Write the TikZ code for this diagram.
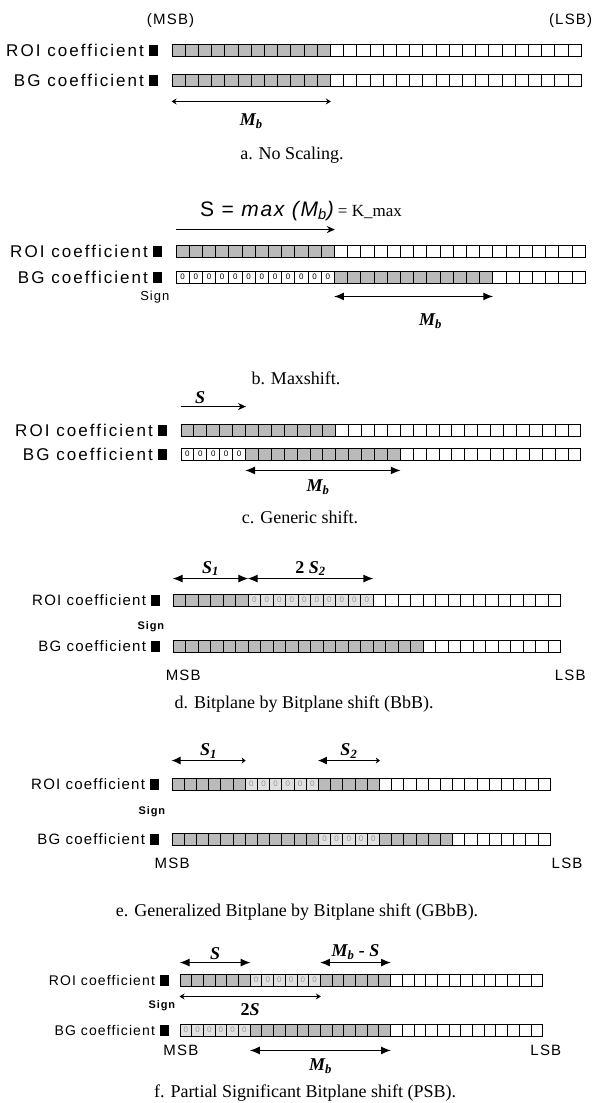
\documentclass[tikz,border=0pt]{standalone}
\usepackage{fontspec}
\setmainfont{Liberation Serif}
\newfontfamily\arialfont[LetterSpace=12]{Liberation Sans}
\newfontfamily\arialtight[LetterSpace=8]{Liberation Sans}
\usetikzlibrary{positioning, arrows.meta}
\tikzstyle{cell} = [rectangle, draw=black, line width=0.9pt, minimum height=12pt, inner sep=0pt]
\tikzstyle{wcell} = [cell, fill=white]
\tikzstyle{gcell} = [cell, fill=black!27]
\tikzstyle{digit} = [inner sep=0pt, font=\arialtight\fontsize{8}{8}\selectfont]
\tikzstyle{zcell} = [cell, fill=white, label={[digit]center:0}]
\tikzstyle{lcell} = [cell, fill=black!12, label={[digit, text=black!40]center:0}]
\tikzstyle{sq} = [rectangle, fill=black, minimum width=9pt, minimum height=11pt, inner sep=0pt]
\tikzstyle{labbig} = [font=\arialfont\fontsize{17}{17}\selectfont, inner sep=0pt]
\tikzstyle{labsmall} = [font=\arialtight\fontsize{15}{15}\selectfont, inner sep=0pt]
\tikzstyle{signtext} = [font=\arialtight\bfseries\fontsize{11}{11}\selectfont, inner sep=0pt]
\tikzstyle{captext} = [font=\fontsize{18}{21}\selectfont]
\tikzstyle{mlab} = [font=\fontsize{18}{20}\selectfont\itshape\bfseries, inner sep=0pt]
\tikzstyle{thinarrow} = [line width=0.9pt, {Stealth[length=5pt,width=6pt]}-{Stealth[length=5pt,width=6pt]}]
\tikzstyle{boldarrow} = [line width=1.3pt, {Latex[length=10pt,width=8pt]}-{Latex[length=10pt,width=8pt]}]
\tikzstyle{shiftarrow} = [line width=0.9pt, -{Stealth[length=8pt,width=7pt]}]
\tikzstyle{halfarrow} = [line width=1pt, {Latex[length=9pt,width=8pt]}-{Stealth[length=4pt,width=6pt]}]

% row of bit cells: name, x of left edge, y, cell width, runs kind/count
\newcount\bitno
\newcommand{\bitrow}[5]{%
  \global\bitno=0
  \foreach \kind/\num in {#5}{
    \foreach \k in {1,...,\num}{
      \pgfmathsetmacro{\cx}{#2+(\the\bitno+0.5)*#4}
      \node[\kind, minimum width=#4pt] (#1-\the\bitno) at (\cx, #3) {};
      \global\advance\bitno by 1
    }
  }
}

\begin{document}
\begin{tikzpicture}[x=1pt, y=-1pt]
  \useasboundingbox (0,0) rectangle (596,1103);

  % a. no scaling
  \bitrow{aR}{172}{50}{13.2}{gcell/12, wcell/19}
  \bitrow{aB}{172}{80}{13.2}{gcell/12, wcell/19}
  \node[sq, left=13pt of aR-0] (aRs) {};
  \node[sq, left=13pt of aB-0] (aBs) {};
  \node[labbig, left=5pt of aRs] (aRt) {ROI coefficient};
  \node[labbig, left=5pt of aBs] (aBt) {BG coefficient};
  \node[labsmall, above=16pt of aR-0, xshift=-8pt] (aMsb) {(MSB)};
  \node[labsmall, above=16pt of aR-30, xshift=-4pt] (aLsb) {(LSB)};
  \draw[thinarrow] ([yshift=-15pt]aB-0.south west) -- node[mlab, below=12pt] (aMb) {M\textsubscript{b}} ([yshift=-15pt]aB-11.south east);
  \node[captext] (aCap) at (292,155) {a. No Scaling.};

  % b. maxshift
  \bitrow{bR}{176}{251}{13.2}{gcell/12, wcell/19}
  \bitrow{bB}{176}{277}{13.2}{zcell/12, gcell/12, wcell/7}
  \node[sq, left=13pt of bR-0] (bRs) {};
  \node[sq, left=13pt of bB-0] (bBs) {};
  \node[labbig, left=5pt of bRs] (bRt) {ROI coefficient};
  \node[labbig, left=5pt of bBs] (bBt) {BG coefficient};
  \node[labsmall, font=\arialtight\fontsize{13}{13}\selectfont, below=8pt of bBs, xshift=-3pt] (bSign) {Sign};
  \draw[shiftarrow] ([yshift=15pt]bR-0.north west) -- ([yshift=15pt]bR-11.north east);
  \node (bF) at (301,211) {{\arialtight\fontsize{21}{22}\selectfont S = \textit{max (M\textsubscript{b})}} \fontsize{17}{20}\selectfont = K\_max};
  \draw[boldarrow] ([yshift=-13pt]bB-12.south west) -- node[mlab, below=17pt, xshift=17pt] (bMb) {M\textsubscript{b}} ([yshift=-13pt]bB-23.south east);
  \node[captext] (bCap) at (296,378) {b. Maxshift.};

  % c. generic shift
  \bitrow{cR}{181}{430}{12.9}{gcell/12, wcell/19}
  \bitrow{cB}{181}{454}{12.9}{zcell/5, gcell/12, wcell/14}
  \node[sq, left=13pt of cR-0] (cRs) {};
  \node[sq, left=13pt of cB-0] (cBs) {};
  \node[labbig, left=5pt of cRs] (cRt) {ROI coefficient};
  \node[labbig, left=5pt of cBs] (cBt) {BG coefficient};
  \draw[shiftarrow] ([yshift=17pt]cR-0.north west) -- node[mlab, above=2pt, pos=0.3] (cS) {S} ([yshift=17pt]cR-4.north east);
  \draw[boldarrow] ([yshift=-10pt]cB-5.south west) -- node[mlab, below=9pt, xshift=-5pt] (cMb) {M\textsubscript{b}} ([yshift=-10pt]cB-16.south east);
  \node[captext] (cCap) at (300,517) {c. Generic shift.};

  % d. bitplane by bitplane shift
  \bitrow{dR}{173}{600}{12.5}{gcell/6, lcell/10, wcell/15}
  \bitrow{dB}{173}{646}{12.5}{gcell/20, wcell/11}
  \node[sq, left=12pt of dR-0] (dRs) {};
  \node[sq, left=12pt of dB-0] (dBs) {};
  \node[labsmall, left=5pt of dRs] (dRt) {ROI coefficient};
  \node[labsmall, left=5pt of dBs] (dBt) {BG coefficient};
  \node[signtext, below=16pt of dRs, xshift=-5pt] (dSign) {Sign};
  \draw[boldarrow] ([yshift=15pt]dR-0.north west) -- node[mlab, above=2pt] (dS1) {S\textsubscript{1}} ([yshift=15pt]dR-5.north east);
  \draw[boldarrow] ([yshift=15pt]dR-6.north west) -- node[mlab, above=2pt] (dS2) {\upshape 2 \itshape S\textsubscript{2}} ([yshift=15pt]dR-15.north east);
  \node[labsmall, below=17pt of dB-0, xshift=4pt] (dMsb) {MSB};
  \node[labsmall, below=17pt of dB-30, xshift=16pt] (dLsb) {LSB};
  \node[captext] (dCap) at (304,704) {d. Bitplane by Bitplane shift (BbB).};

  % e. generalized bitplane by bitplane shift
  \bitrow{eR}{172}{784}{12.2}{gcell/6, lcell/6, gcell/5, wcell/14}
  \bitrow{eB}{172}{839}{12.2}{gcell/12, lcell/5, gcell/6, wcell/8}
  \node[sq, left=12pt of eR-0] (eRs) {};
  \node[sq, left=12pt of eB-0] (eBs) {};
  \node[labsmall, left=5pt of eRs] (eRt) {ROI coefficient};
  \node[labsmall, left=5pt of eBs] (eBt) {BG coefficient};
  \node[signtext, below=17pt of eRs, xshift=-3pt] (eSign) {Sign};
  \draw[halfarrow] ([yshift=17pt]eR-0.north west) -- node[mlab, above=2pt] (eS1) {S\textsubscript{1}} ([yshift=17pt]eR-5.north east);
  \draw[halfarrow] ([yshift=17pt]eR-12.north west) -- node[mlab, above=2pt] (eS2) {S\textsubscript{2}} ([yshift=17pt]eR-16.north east);
  \node[labsmall, below=12pt of eB-0, xshift=-6pt] (eMsb) {MSB};
  \node[labsmall, below=12pt of eB-30, xshift=23pt] (eLsb) {LSB};
  \node[captext] (eCap) at (297,912) {e. Generalized Bitplane by Bitplane shift (GBbB).};

  % f. partial significant bitplane shift
  \bitrow{fR}{180}{980}{11.7}{gcell/6, lcell/6, gcell/6, wcell/13}
  \bitrow{fB}{180}{1030}{11.7}{lcell/6, gcell/12, wcell/13}
  \node[sq, left=10pt of fR-0] (fRs) {};
  \node[sq, left=10pt of fB-0] (fBs) {};
  \node[labsmall, font=\arialtight\fontsize{14}{14}\selectfont, left=5pt of fRs] (fRt) {ROI coefficient};
  \node[labsmall, font=\arialtight\fontsize{14}{14}\selectfont, left=5pt of fBs] (fBt) {BG coefficient};
  \node[signtext, below=15pt of fRs, xshift=-3pt] (fSign) {Sign};
  \draw[boldarrow] ([yshift=11pt]fR-0.north west) -- node[mlab, above=2pt] (fS) {S} ([yshift=11pt]fR-5.north east);
  \draw[boldarrow] ([yshift=11pt]fR-12.north west) -- node[mlab, above=2pt] (fMbS) {M\textsubscript{b} - S} ([yshift=11pt]fR-17.north east);
  \draw[thinarrow] ([yshift=-10pt]fR-0.south west) -- node[mlab, below=7pt] (f2S) {\upshape 2\itshape S} ([yshift=-10pt]fR-11.south east);
  \draw[boldarrow] ([yshift=-14pt]fB-6.south west) -- node[mlab, below=8pt] (fMb) {M\textsubscript{b}} ([yshift=-14pt]fB-17.south east);
  \node[labsmall, below=8pt of fB-0, xshift=-5pt] (fMsb) {MSB};
  \node[labsmall, below=8pt of fB-30, xshift=9pt] (fLsb) {LSB};
  \node[captext] (fCap) at (305,1093) {f. Partial Significant Bitplane shift (PSB).};

\end{tikzpicture}
\end{document}
